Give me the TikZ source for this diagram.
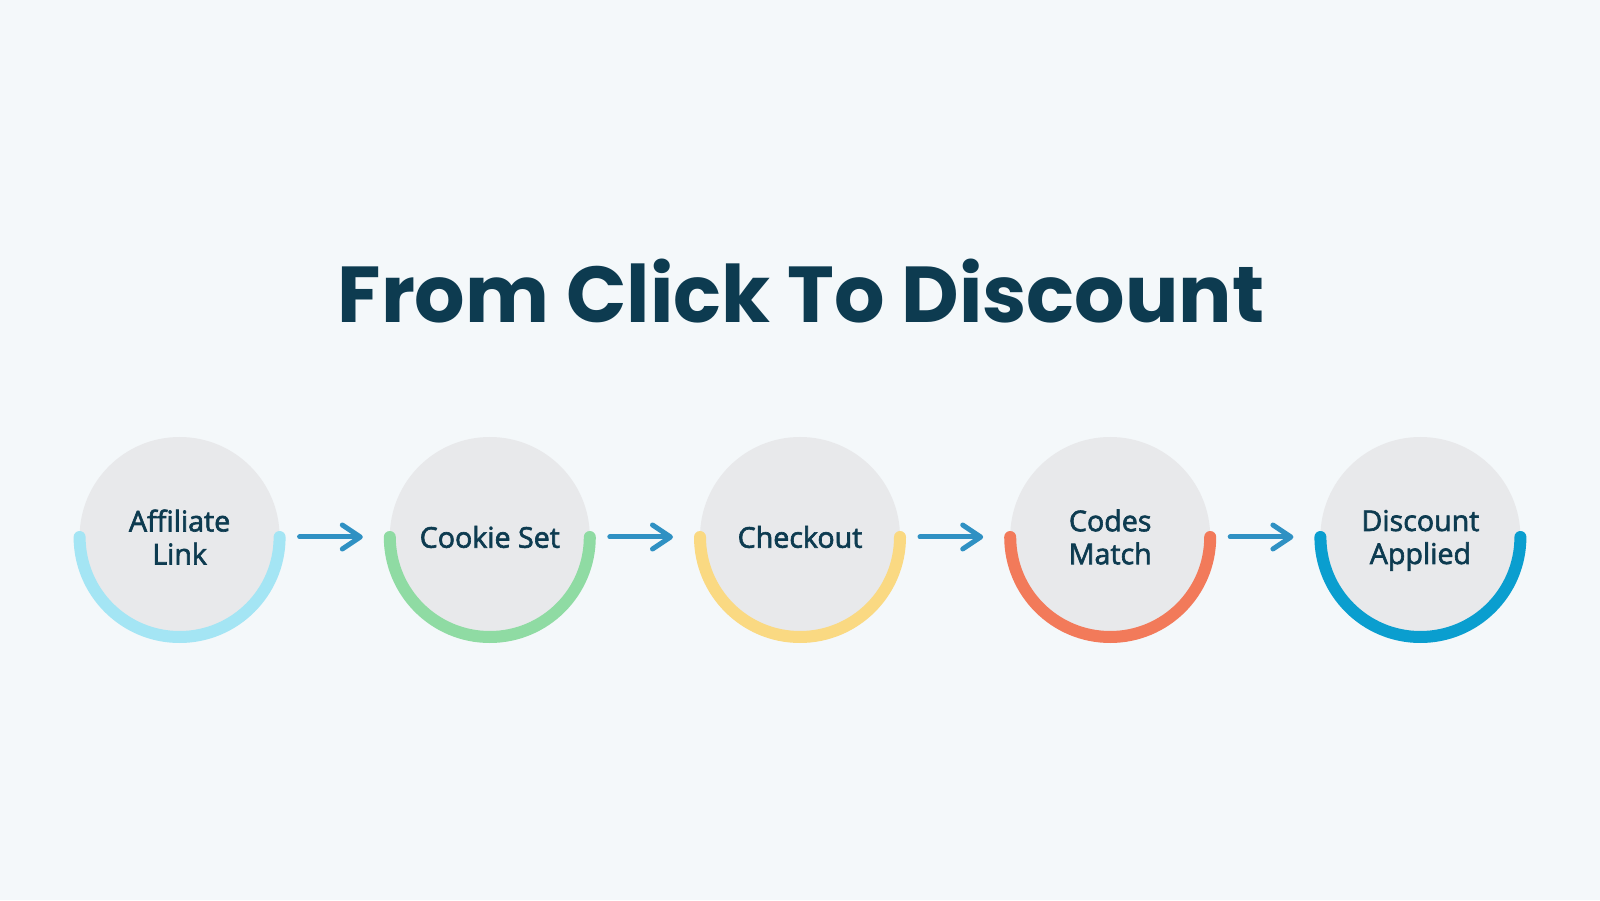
\documentclass[tikz,border=0pt]{standalone}
\usepackage{fontspec}
\usetikzlibrary{arrows.meta}
\newfontfamily\titlefont{Poppins}[UprightFont=* Bold]
\newfontfamily\labfont{Open Sans}[FakeBold=2.2]
\definecolor{bgc}{HTML}{F4F8FA}
\definecolor{fillc}{HTML}{E8E9EB}
\definecolor{ink}{HTML}{0D3B50}
\definecolor{arrc}{HTML}{2F91C3}
\definecolor{ringA}{HTML}{A4E5F4}
\definecolor{ringB}{HTML}{8FDBA3}
\definecolor{ringC}{HTML}{FAD982}
\definecolor{ringD}{HTML}{F27A5A}
\definecolor{ringE}{HTML}{0A9ECF}
\newcommand{\nodepth}[1]{\raisebox{0pt}[\height][0pt]{#1}}
\tikzset{
  stepnode/.style={circle, fill=fillc, minimum size=200pt, inner sep=0pt, outer sep=0pt,
    text=ink, align=center, font=\labfont\fontsize{28.6}{33}\selectfont},
  ring/.style={line width=12pt, line cap=round},
  flow/.style={draw=arrc, line width=5pt, line cap=round, shorten <=20pt, shorten >=27pt,
    -{Straight Barb[length=18pt, width=24pt, round]}},
  titlestyle/.style={text=ink, inner sep=0pt, anchor=base, font=\titlefont\fontsize{79.3}{90}\selectfont}
}
\begin{document}
\begin{tikzpicture}[x=1pt,y=1pt]
\fill[bgc] (0,0) rectangle (1600,900);
\useasboundingbox (0,0) rectangle (1600,900);
\node[titlestyle] (title) at (801,577.3) {From Click To Discount};
\node[stepnode] (c1) at (179.6,363) {Affiliate\\Link};
\node[stepnode] (c2) at (489.8,363) {Cookie Set};
\node[stepnode] (c3) at (800,363) {Checkout};
\node[stepnode] (c4) at (1110.2,363) {Codes\\Match};
\node[stepnode] (c5) at (1420.4,363) {Discount\\\nodepth{Applied}};
\draw[ring, ringA] (c1.west) arc[start angle=180, end angle=360, radius=100pt];
\draw[ring, ringB] (c2.west) arc[start angle=180, end angle=360, radius=100pt];
\draw[ring, ringC] (c3.west) arc[start angle=180, end angle=360, radius=100pt];
\draw[ring, ringD] (c4.west) arc[start angle=180, end angle=360, radius=100pt];
\draw[ring, ringE] (c5.west) arc[start angle=180, end angle=360, radius=100pt];
\draw[flow] (c1) -- (c2);
\draw[flow] (c2) -- (c3);
\draw[flow] (c3) -- (c4);
\draw[flow] (c4) -- (c5);
\end{tikzpicture}
\end{document}
